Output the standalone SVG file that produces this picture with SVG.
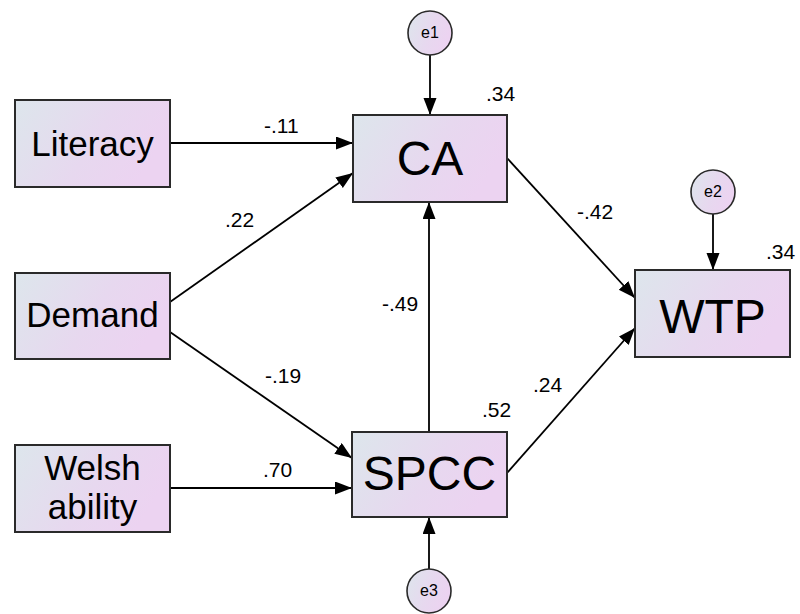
<svg xmlns="http://www.w3.org/2000/svg" width="800" height="614" viewBox="0 0 800 614">
  <defs>
    <linearGradient id="fillGrad" x1="0" y1="0" x2="1" y2="0.35">
      <stop offset="0" stop-color="#dde6ec"/>
      <stop offset="0.6" stop-color="#e7d8ef"/>
      <stop offset="1" stop-color="#ecd3f1"/>
    </linearGradient>
    <marker id="arrow" markerUnits="userSpaceOnUse" markerWidth="18" markerHeight="14" refX="17" refY="6.5" orient="auto">
      <path d="M0,0 L17,6.5 L0,13 Z" fill="#000"/>
    </marker>
    <style>
      .box { fill: url(#fillGrad); stroke: #2a2a2a; stroke-width: 2; }
      .err { fill: url(#fillGrad); stroke: #2a2a2a; stroke-width: 1.6; }
      .lbl { font-family: "Liberation Sans", Arial, sans-serif; fill: #000; }
      .obs { font-size: 35px; text-anchor: middle; }
      .lat { font-size: 48px; text-anchor: middle; }
      .eps { font-size: 16px; text-anchor: middle; }
      .coef { font-size: 21px; }
      .path { stroke: #000; stroke-width: 1.8; fill: none; marker-end: url(#arrow); }
    </style>
  </defs>
  <rect width="800" height="614" fill="#fff"/>

  <!-- paths between variables -->
  <g id="connectors">
    <line class="path" x1="170" y1="143" x2="353" y2="143"/>
    <line class="path" x1="170" y1="302" x2="353" y2="173"/>
    <line class="path" x1="170" y1="332" x2="352" y2="458"/>
    <line class="path" x1="170" y1="488" x2="352" y2="488"/>
    <line class="path" x1="429" y1="432" x2="429" y2="202"/>
    <line class="path" x1="507" y1="158" x2="635" y2="298"/>
    <line class="path" x1="507" y1="473" x2="635" y2="328"/>
    <line class="path" x1="430" y1="55" x2="430" y2="115"/>
    <line class="path" x1="713" y1="214" x2="713" y2="270"/>
    <line class="path" x1="429" y1="569" x2="429" y2="517"/>
    <g class="lbl coef">
      <text x="264" y="133">-.11</text>
      <text x="225" y="227">.22</text>
      <text x="265" y="383">-.19</text>
      <text x="263" y="477">.70</text>
      <text x="382" y="311">-.49</text>
      <text x="577" y="219">-.42</text>
      <text x="533" y="392">.24</text>
    </g>
  </g>

  <!-- observed variables -->
  <g id="literacy">
    <rect class="box" x="15" y="100" width="155" height="87"/>
    <text class="lbl obs" x="92.5" y="156">Literacy</text>
  </g>
  <g id="demand">
    <rect class="box" x="15" y="273" width="155" height="86"/>
    <text class="lbl obs" x="92.5" y="327">Demand</text>
  </g>
  <g id="welsh">
    <rect class="box" x="15" y="445" width="155" height="87"/>
    <text class="lbl obs" x="92.5" y="480">Welsh</text>
    <text class="lbl obs" x="92.5" y="519">ability</text>
  </g>

  <!-- endogenous variables -->
  <g id="ca">
    <rect class="box" x="353" y="115" width="154" height="87"/>
    <text class="lbl lat" x="430" y="175">CA</text>
    <text class="lbl coef" x="486" y="101">.34</text>
  </g>
  <g id="spcc">
    <rect class="box" x="352" y="432" width="155" height="85"/>
    <text class="lbl lat" x="429.5" y="490">SPCC</text>
    <text class="lbl coef" x="482" y="417">.52</text>
  </g>
  <g id="wtp">
    <rect class="box" x="635" y="270" width="155" height="87"/>
    <text class="lbl lat" x="712.5" y="333">WTP</text>
    <text class="lbl coef" x="766" y="259">.34</text>
  </g>

  <!-- error terms -->
  <g id="e1">
    <circle class="err" cx="430" cy="33" r="22"/>
    <text class="lbl eps" x="430" y="38">e1</text>
  </g>
  <g id="e2">
    <circle class="err" cx="713" cy="192" r="22"/>
    <text class="lbl eps" x="713" y="197">e2</text>
  </g>
  <g id="e3">
    <circle class="err" cx="429" cy="591" r="22"/>
    <text class="lbl eps" x="429" y="596">e3</text>
  </g>
</svg>
